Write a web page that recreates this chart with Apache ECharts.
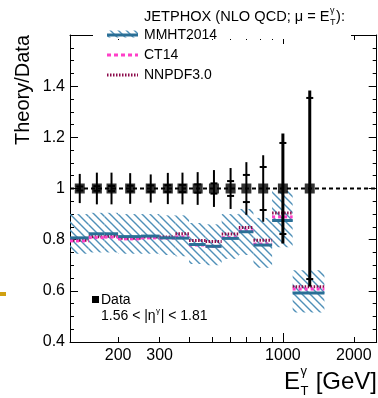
<!DOCTYPE html>
<html><head><meta charset="utf-8">
<script src="https://cdn.jsdelivr.net/npm/echarts@6/dist/echarts.min.js"></script>
<style>html,body{margin:0;padding:0;background:#fff}#c{width:378px;height:398px}</style>
</head><body><div id="c"></div>
<script>
// ---- data ----
const binLo     = [125,150,175,200,250,300,350,400,470,550,650,750,900,1100];
const binHi     = [150,175,200,250,300,350,400,470,550,650,750,900,1100,1500];
const binCenter = [137.5,162.5,187.5,225,275,325,375,435,510,600,700,825,1000,1300];
const dataRatio   = [1,1,1,1,1,1,1,1,1,1,1,1,1,1];
const dataTotErr  = [0.057,0.062,0.062,0.060,0.055,0.061,0.062,0.064,0.072,0.080,0.103,0.130,0.215,0.383];
const dataStatErr = [0.008,0.009,0.010,0.011,0.012,0.013,0.014,0.016,0.020,0.029,0.053,0.084,0.178,0.354];
const mmht  = [0.807,0.823,0.823,0.812,0.814,0.807,0.806,0.781,0.774,0.805,0.831,0.779,0.875,0.592];
const ct14  = [0.795,0.808,0.810,0.803,0.807,0.806,0.811,0.779,0.774,0.808,0.835,0.783,0.889,0.607];
const nnpdf = [0.798,0.811,0.813,0.806,0.810,0.810,0.823,0.797,0.793,0.822,0.848,0.798,0.904,0.616];
const bandLow  = [0.745,0.750,0.750,0.745,0.745,0.740,0.735,0.705,0.700,0.725,0.740,0.690,0.770,0.515];
const bandHigh = [0.900,0.905,0.905,0.900,0.900,0.895,0.895,0.865,0.860,0.900,0.920,0.885,0.990,0.680];
const xMinorTicks = [200,300,400,500,600,700,800,900,2000];
const xMajorTicks = [1000];
const xLabels = [200,300,1000,2000];
const xRange = [125,2500];
const yRange = [0.4,1.6];

// ---- helpers ----
const L = Math.log10;
const FONT = '"Liberation Sans", Arial, Helvetica, sans-serif';
const mctx = document.createElement('canvas').getContext('2d');
function tw(t, s){ mctx.font = s + 'px ' + FONT; return mctx.measureText(t).width; }

// hatch pattern
const pc = document.createElement('canvas'); pc.width = 8; pc.height = 8;
(function(){ const c = pc.getContext('2d'); c.strokeStyle = '#4f90b8'; c.lineWidth = 1.4;
  c.beginPath(); c.moveTo(-1,-1); c.lineTo(9,9); c.moveTo(-1,7); c.lineTo(1,9); c.moveTo(7,-1); c.lineTo(9,1); c.stroke(); })();
const hatch = {image: pc, repeat: 'repeat'};

const blue = '#2a6f96', pink = '#ff3fc8', maroon = '#8c0a4b';

function segSeries(name, vals, style, z){
  return {type:'custom', name, xAxisIndex:0, yAxisIndex:0, z,
    data: binLo.map((lo,i)=>[L(lo), L(binHi[i]), vals[i]]),
    encode:{x:[0,1], y:2},
    renderItem:(p, api)=>{
      const a = api.coord([api.value(0), api.value(2)]);
      const b = api.coord([api.value(1), api.value(2)]);
      return {type:'line', shape:{x1:a[0],y1:a[1],x2:b[0],y2:b[1]}, style:Object.assign({fill:null}, style)};
    }};
}

const axisLineStyle = {color:'#000', width:1};
function xAxisDef(grid, pos, tickVals, len, labels){
  return {type:'value', gridIndex:grid, position:pos, min:L(xRange[0]), max:L(xRange[1]),
    axisLine:{show:grid===0, lineStyle:axisLineStyle, onZero:false},
    splitLine:{show:false},
    axisTick:{show:true, inside:true, length:len, customValues:tickVals.map(L), lineStyle:{color:'#000', width:1}},
    axisLabel:labels ? {show:true, customValues:labels.map(L), formatter:v=>String(Math.round(Math.pow(10,v))),
      fontFamily:FONT, fontSize:16, color:'#000', margin:6} : {show:false}};
}
function yAxisDef(grid, pos, labels){
  return {type:'value', gridIndex:grid, position:pos, min:yRange[0], max:yRange[1], interval:0.2,
    show: grid===0,
    axisLine:{show:true, lineStyle:axisLineStyle, onZero:false},
    splitLine:{show:false},
    axisTick:{show:true, inside:true, length:8, lineStyle:{color:'#000', width:1}},
    minorTick:{show:true, splitNumber:4, length:4, lineStyle:{color:'#000', width:1}},
    axisLabel:labels ? {show:true, fontFamily:FONT, fontSize:16, color:'#000', margin:5,
      formatter:v=>Math.abs(v-1.6)<1e-6 ? '' : (Math.abs(v-1)<1e-6 ? '1' : v.toFixed(1))} : {show:false}};
}

const gridBox = {left:70, right:1.3, top:35, bottom:56, outerBoundsMode:'none'};

// ---- graphics (texts / legend) ----
const g = [];
g.push({type:'rect', shape:{x:93, y:0, width:258, height:39}, style:{fill:'#fff'}, z:50});
// header
(function(){
  const x0 = 144, y = 17, s = 14.6, t1 = 'JETPHOX (NLO QCD; μ = E';
  const w1 = tw(t1, s);
  g.push({type:'text', x:x0, y:y, style:{text:t1, font:s+'px '+FONT, fill:'#000', verticalAlign:'middle'}, z:60});
  g.push({type:'text', x:x0+w1+0.5, y:y-6, style:{text:'γ', font:'9px '+FONT, fill:'#000', verticalAlign:'middle'}, z:60});
  g.push({type:'text', x:x0+w1+0.5, y:y+6, style:{text:'T', font:'9px '+FONT, fill:'#000', verticalAlign:'middle'}, z:60});
  g.push({type:'text', x:x0+w1+6.5, y:y, style:{text:'):', font:s+'px '+FONT, fill:'#000', verticalAlign:'middle'}, z:60});
})();
// legend entries
g.push({type:'rect', shape:{x:107, y:30.5, width:31, height:7}, style:{fill:hatch}, z:60});
g.push({type:'line', shape:{x1:107, y1:35, x2:138, y2:35}, style:{stroke:blue, lineWidth:3}, z:61});
g.push({type:'text', x:144, y:35, style:{text:'MMHT2014', font:'14px '+FONT, fill:'#000', verticalAlign:'middle'}, z:60});
g.push({type:'line', shape:{x1:107, y1:55, x2:138, y2:55}, style:{stroke:pink, lineWidth:3, lineDash:[4,3]}, z:61});
g.push({type:'text', x:144, y:55, style:{text:'CT14', font:'14px '+FONT, fill:'#000', verticalAlign:'middle'}, z:60});
g.push({type:'line', shape:{x1:107, y1:75, x2:138, y2:75}, style:{stroke:maroon, lineWidth:3, lineDash:[1.5,1.5]}, z:61});
g.push({type:'text', x:144, y:75, style:{text:'NNPDF3.0', font:'14px '+FONT, fill:'#000', verticalAlign:'middle'}, z:60});
// y title
g.push({type:'text', x:23, y:35, rotation:Math.PI/2, style:{text:'Theory/Data', font:'20px '+FONT, fill:'#000', align:'right', verticalAlign:'middle'}, z:60});
// x title
(function(){
  const s = 24, y = 382, xEnd = 377;
  const w3 = tw(' [GeV]', s), wE = tw('E', s), wS = Math.max(tw('γ',13), tw('T',13));
  const x0 = xEnd - w3 - wS - wE - 1;
  g.push({type:'text', x:x0, y:y, style:{text:'E', font:s+'px '+FONT, fill:'#000', verticalAlign:'middle'}, z:60});
  g.push({type:'text', x:x0+wE+0.5, y:y-11, style:{text:'γ', font:'13px '+FONT, fill:'#000', verticalAlign:'middle'}, z:60});
  g.push({type:'text', x:x0+wE+0.5, y:y+9, style:{text:'T', font:'13px '+FONT, fill:'#000', verticalAlign:'middle'}, z:60});
  g.push({type:'text', x:x0+wE+wS+1, y:y, style:{text:' [GeV]', font:s+'px '+FONT, fill:'#000', verticalAlign:'middle'}, z:60});
})();
// bottom-left legend
g.push({type:'rect', shape:{x:92, y:296, width:7, height:7}, style:{fill:'#000'}, z:60});
g.push({type:'text', x:101, y:300, style:{text:'Data', font:'14px '+FONT, fill:'#000', verticalAlign:'middle'}, z:60});
(function(){
  const s = 14, y = 316, x0 = 101, t1 = '1.56 < |η';
  const w1 = tw(t1, s);
  g.push({type:'text', x:x0, y:y, style:{text:t1, font:s+'px '+FONT, fill:'#000', verticalAlign:'middle'}, z:60});
  g.push({type:'text', x:x0+w1+0.3, y:y-5, style:{text:'γ', font:'8px '+FONT, fill:'#000', verticalAlign:'middle'}, z:60});
  g.push({type:'text', x:x0+w1+5, y:y, style:{text:'| < 1.81', font:s+'px '+FONT, fill:'#000', verticalAlign:'middle'}, z:60});
})();
// stray mark at left edge
g.push({type:'rect', shape:{x:0, y:292, width:6, height:4}, style:{fill:'#d0a010'}, z:60});

const chart = echarts.init(document.getElementById('c'), null, {renderer:'canvas'});
chart.setOption({
  animation:false,
  backgroundColor:'#fff',
  grid:[Object.assign({}, gridBox), Object.assign({}, gridBox)],
  xAxis:[
    xAxisDef(0,'bottom',xMinorTicks,5,xLabels),
    xAxisDef(0,'top',xMinorTicks.concat(xMajorTicks),5,null),
    xAxisDef(1,'bottom',xMajorTicks,9,null),
    xAxisDef(1,'top',xMajorTicks,9,null)
  ],
  yAxis:[ yAxisDef(0,'left',true), yAxisDef(0,'right',false), yAxisDef(1,'left',false) ],
  graphic:{elements:g},
  series:[
    {type:'custom', name:'band', xAxisIndex:0, yAxisIndex:0, z:1,
      data: binLo.map((lo,i)=>[L(lo), L(binHi[i]), bandLow[i], bandHigh[i]]),
      encode:{x:[0,1], y:[2,3]},
      renderItem:(p, api)=>{
        const a = api.coord([api.value(0), api.value(3)]);
        const b = api.coord([api.value(1), api.value(2)]);
        return {type:'rect', shape:{x:a[0], y:a[1], width:b[0]-a[0], height:b[1]-a[1]}, style:{fill:hatch, stroke:null}};
      }},
    {type:'line', name:'unity', xAxisIndex:0, yAxisIndex:0, z:2, symbol:'none', silent:true,
      data:[[L(xRange[0]),1],[L(xRange[1]),1]],
      lineStyle:{color:'#000', width:2, type:[4,3]}},
    segSeries('NNPDF3.0', nnpdf, {stroke:maroon, lineWidth:3, lineDash:[1.5,1.5]}, 3),
    segSeries('CT14', ct14, {stroke:pink, lineWidth:3, lineDash:[3,3]}, 4),
    segSeries('MMHT2014', mmht, {stroke:blue, lineWidth:3}, 5),
    {type:'custom', name:'errors', xAxisIndex:0, yAxisIndex:0, z:6,
      data: binCenter.map((c,i)=>[L(c), dataRatio[i], dataTotErr[i], dataStatErr[i]]),
      encode:{x:0, y:1},
      renderItem:(p, api)=>{
        const x = api.value(0), v = api.value(1), t = api.value(2), s = api.value(3);
        const top = api.coord([x, v+t]), bot = api.coord([x, v-t]);
        const st = api.coord([x, v+s]), sb = api.coord([x, v-s]);
        const lw = t > 0.2 ? 3 : 2;
        return {type:'group', children:[
          {type:'line', shape:{x1:top[0], y1:top[1], x2:bot[0], y2:bot[1]}, style:{stroke:'#000', lineWidth:lw}},
          {type:'line', shape:{x1:st[0]-3.5, y1:st[1], x2:st[0]+3.5, y2:st[1]}, style:{stroke:'#000', lineWidth:2}},
          {type:'line', shape:{x1:sb[0]-3.5, y1:sb[1], x2:sb[0]+3.5, y2:sb[1]}, style:{stroke:'#000', lineWidth:2}}
        ]};
      }},
    {type:'scatter', name:'Data', xAxisIndex:0, yAxisIndex:0, z:7, symbol:'rect', symbolSize:10,
      itemStyle:{color:'#000'},
      data: binCenter.map((c,i)=>[L(c), dataRatio[i]])}
  ]
});
</script></body></html>
